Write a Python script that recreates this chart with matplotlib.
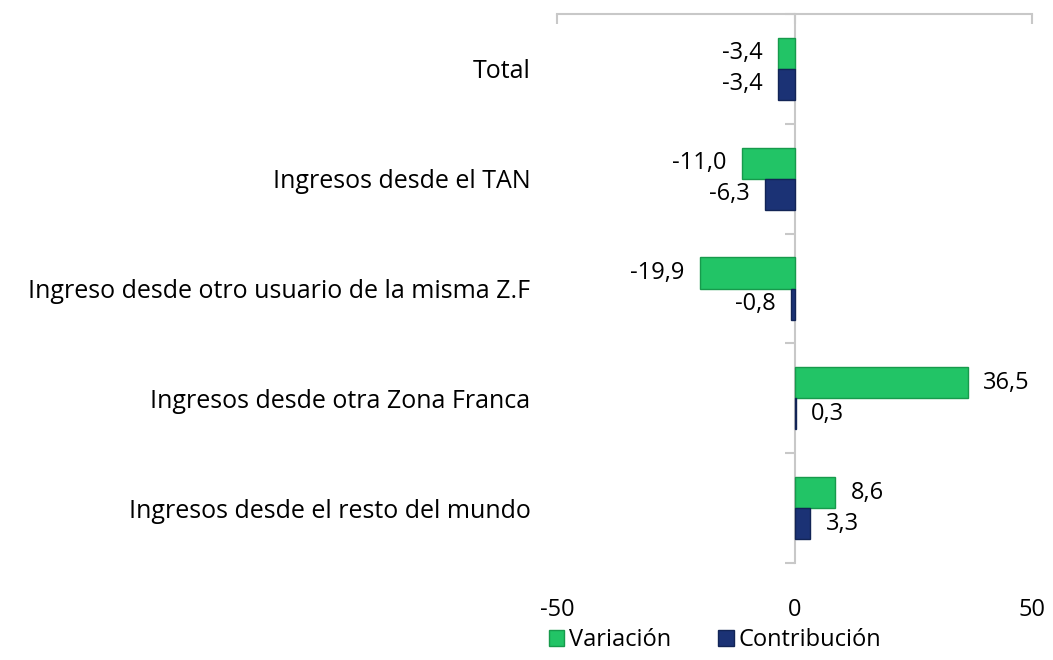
import matplotlib
matplotlib.use("Agg")
import matplotlib.pyplot as plt
import matplotlib.markers as mmarkers
from matplotlib.patches import Patch
import numpy as np

categories = ["Total", "Ingresos desde el TAN", "Ingreso desde otro usuario de la misma Z.F",
              "Ingresos desde otra Zona Franca", "Ingresos desde el resto del mundo"]
variacion = [-3.4, -11.0, -19.9, 36.5, 8.6]
contribucion = [-3.4, -6.3, -0.8, 0.3, 3.3]
xticks = [-50, 0, 50]
series_names = ["Variación", "Contribución"]

plt.rcParams['font.family'] = ['Open Sans', 'DejaVu Sans']
FS = 17

fig = plt.figure(figsize=(10.53, 6.6), dpi=100)
ax = fig.add_axes([557/1053, 1-563/660, (1032-557)/1053, (563-14)/660])

green = '#22c466'
green_edge = '#179a4c'
blue = '#1b3275'
blue_edge = '#122456'

y = np.arange(len(categories))
h = 0.283
ax.barh(y - h/2, variacion, height=h, color=green, edgecolor=green_edge, linewidth=1.0, zorder=3)
ax.barh(y + h/2, contribucion, height=h, color=blue, edgecolor=blue_edge, linewidth=1.0, zorder=3)

def fmt(v):
    return f"{v:.1f}".replace('.', ',')

for i in range(len(categories)):
    for val, yy in ((variacion[i], y[i] - h/2), (contribucion[i], y[i] + h/2)):
        off = 11 if val >= 0 else -11
        ax.annotate(fmt(val), (val, yy), xytext=(off, 0), textcoords='offset points',
                    ha='left' if val >= 0 else 'right', va='center', fontsize=FS, color='black')

ax.set_xlim(-50, 50)
ax.set_ylim(len(categories) - 0.5, -0.5)

for s in ['left', 'right', 'bottom']:
    ax.spines[s].set_visible(False)
ax.spines['top'].set_color('#c8c8c8')
ax.spines['top'].set_linewidth(1.5)

ax.set_xticks(xticks)
ax.set_xticklabels([str(t) for t in xticks])
ax.tick_params(axis='x', top=True, bottom=False, labeltop=False, labelbottom=True,
               direction='in', length=7, width=1.5, color='#c8c8c8', labelsize=FS, pad=25)

ax.set_yticks(y)
ax.set_yticklabels(categories)
ax.tick_params(axis='y', length=0, labelsize=18, pad=19)

# vertical zero axis with boundary tick marks
ax.plot([0, 0], [-0.5, len(categories) - 0.5], color='#c8c8c8', lw=1.5, zorder=2, clip_on=False)
bounds = np.arange(len(categories) + 1) - 0.5
ax.plot(np.zeros_like(bounds), bounds, ls='none', marker=mmarkers.TICKLEFT, markersize=7,
        markeredgewidth=1.5, color='#c8c8c8', clip_on=False, zorder=2)

handles = [Patch(facecolor=green, edgecolor=green_edge, label=series_names[0]),
           Patch(facecolor=blue, edgecolor=blue_edge, label=series_names[1])]
fig.legend(handles=handles, loc='center', bbox_to_anchor=(715/1053, 1-640/660), ncol=2,
           frameon=False, fontsize=FS, handlelength=0.65, handleheight=0.65,
           handletextpad=0.2, columnspacing=2.0)

fig.savefig('out.png', dpi=100)
